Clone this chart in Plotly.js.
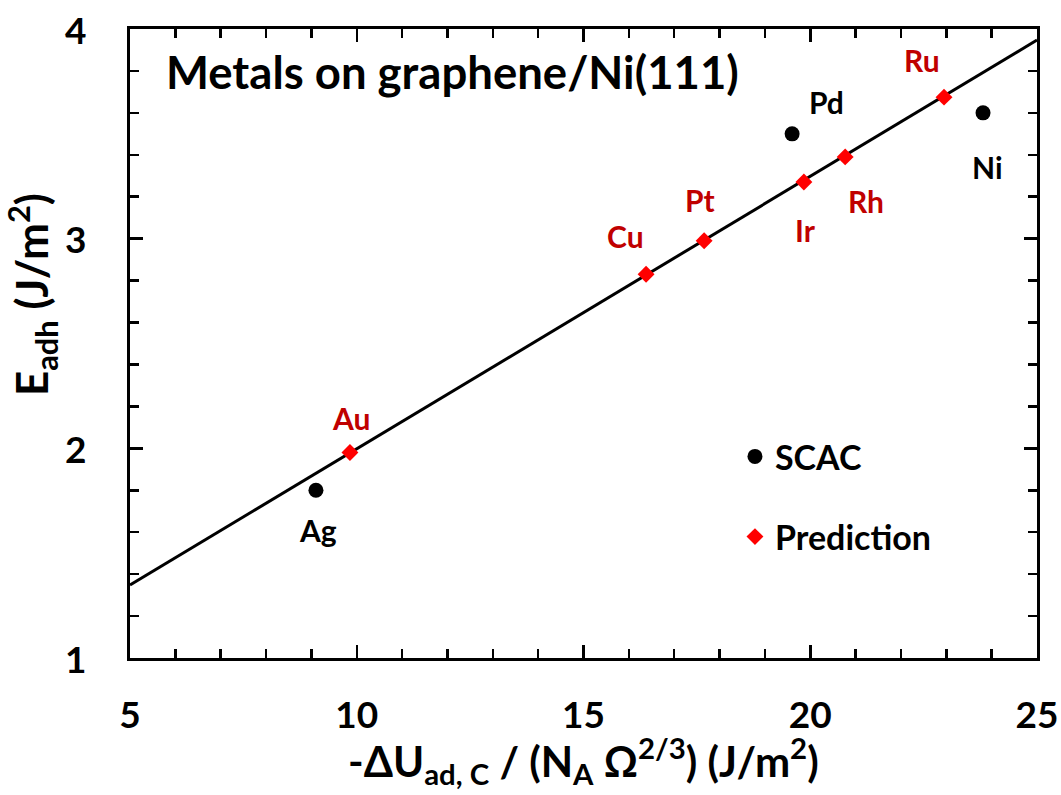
<!DOCTYPE html>
<html>
<head>
<meta charset="utf-8">
<script src="https://cdn.plot.ly/plotly-3.0.1.min.js"></script>
<style>html,body{margin:0;padding:0;background:#fff;}#chart{width:1061px;height:795px;}</style>
</head>
<body>
<div id="chart"></div>
<script>
// SCAC data
const scacNames = ["Ag", "Pd", "Ni"];
const scacX = [9.10, 19.60, 23.81];
const scacY = [1.80, 3.50, 3.60];
// Prediction data
const predNames = ["Au", "Cu", "Pt", "Ir", "Rh", "Ru"];
const predX = [9.85, 16.38, 17.66, 19.86, 20.77, 22.95];
const predY = [1.98, 2.83, 2.99, 3.27, 3.39, 3.675];
// Linear fit line
const fitX = [5, 25];
const fitY = [1.348, 3.947];
// Axis ticks
const xTicks = [5, 10, 15, 20, 25];
const yTicks = [1, 2, 3, 4];

const FONT = "Lato, 'Open Sans', sans-serif";
const RED_TEXT = "#c00000";

// label offsets in pixels (layout)
const labelShift = {
  Ag: [2, -40], Pd: [34, 32], Ni: [4, -54],
  Au: [1, 35], Cu: [-21, 38], Pt: [-4, 41], Ir: [2, -48], Rh: [21, -44], Ru: [-22, 37]
};

const annotations = [];
scacNames.forEach((n, i) => {
  annotations.push({x: scacX[i], y: scacY[i], xref: 'x', yref: 'y', text: n, showarrow: false,
    xshift: labelShift[n][0], yshift: labelShift[n][1],
    font: {family: FONT, size: 30, color: '#000', weight: 'bold'}});
});
predNames.forEach((n, i) => {
  annotations.push({x: predX[i], y: predY[i], xref: 'x', yref: 'y', text: n, showarrow: false,
    xshift: labelShift[n][0], yshift: labelShift[n][1],
    font: {family: FONT, size: 30, color: RED_TEXT, weight: 'bold'}});
});
// y tick labels (placed at tick values on the y axis)
yTicks.forEach(v => {
  annotations.push({x: 0, y: v, xref: 'paper', yref: 'y', xanchor: 'right', yanchor: 'middle',
    xshift: -42, text: String(v), showarrow: false,
    font: {family: FONT, size: 37, color: '#000', weight: 'bold'}});
});
// chart title inside plot
annotations.push({x: 0.038, y: 0.932, xref: 'paper', yref: 'paper', xanchor: 'left', yanchor: 'middle',
  text: "Metals on graphene/Ni(111)", showarrow: false,
  font: {family: FONT, size: 45.5, color: '#000', weight: 'bold'}});
// y axis title
annotations.push({x: 0, y: 0.577, xref: 'paper', yref: 'paper', xanchor: 'center', yanchor: 'middle',
  xshift: -98, textangle: -90, text: "E<sub>adh</sub> (J/m<sup>2</sup>)", showarrow: false,
  font: {family: FONT, size: 44, color: '#000', weight: 'bold'}});
// x axis title
annotations.push({x: 0.5, y: 0, xref: 'paper', yref: 'paper', xanchor: 'center', yanchor: 'middle',
  yshift: -102, text: "-ΔU<sub>ad, C</sub> / (N<sub>A</sub> Ω<sup>2/3</sup>) (J/m<sup>2</sup>)", showarrow: false,
  font: {family: FONT, size: 42, color: '#000', weight: 'bold'}});

const traces = [
  {x: fitX, y: fitY, mode: 'lines', line: {color: '#000', width: 3}, showlegend: false, hoverinfo: 'skip'},
  {x: scacX, y: scacY, mode: 'markers', name: 'SCAC', legendgroup: 'a',
   marker: {symbol: 'circle', size: 15, color: '#000'}},
  {x: predX, y: predY, mode: 'markers', name: 'Prediction', legendgroup: 'b',
   marker: {symbol: 'diamond', size: 13, color: '#ff0000'}}
];

const axisCommon = {
  showgrid: false, zeroline: false, showline: true, linecolor: '#000', linewidth: 3,
  mirror: 'ticks', ticks: 'inside', ticklen: 13, tickwidth: 2.5, tickcolor: '#000',
  tickfont: {family: FONT, size: 37, color: '#000', weight: 'bold'}
};

const layout = {
  width: 1061, height: 795,
  margin: {l: 130, r: 24, t: 29, b: 137},
  paper_bgcolor: '#fff', plot_bgcolor: '#fff',
  font: {family: FONT, color: '#000'},
  xaxis: Object.assign({}, axisCommon, {
    range: [5, 25], tickvals: xTicks, ticktext: xTicks.map(String),
    ticklabelstandoff: 23,
    minor: {dtick: 1, ticks: 'inside', ticklen: 9, tickwidth: 2.5, tickcolor: '#000', showgrid: false}
  }),
  yaxis: Object.assign({}, axisCommon, {
    range: [1, 4], tickvals: yTicks, showticklabels: false,
    minor: {dtick: 0.2, ticks: 'inside', ticklen: 9, tickwidth: 2.5, tickcolor: '#000', showgrid: false}
  }),
  showlegend: true,
  legend: {x: 0.667, y: 0.366, xanchor: 'left', yanchor: 'top', bgcolor: 'rgba(0,0,0,0)',
    font: {family: FONT, size: 34, color: '#000', weight: 'bold'}, tracegroupgap: 33, traceorder: 'grouped'},
  annotations: annotations
};

Plotly.newPlot('chart', traces, layout, {displayModeBar: false, staticPlot: true});
</script>
</body>
</html>
